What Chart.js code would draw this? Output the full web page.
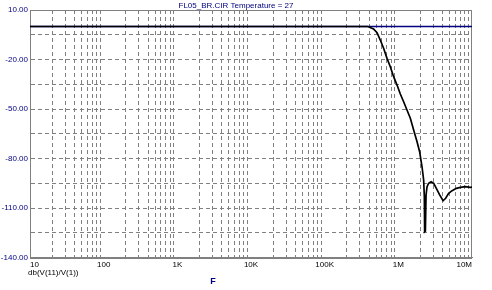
<!DOCTYPE html>
<html>
<head>
<meta charset="utf-8">
<script src="https://cdn.jsdelivr.net/npm/chart.js@4/dist/chart.umd.min.js"></script>
<style>
  html, body { margin: 0; padding: 0; background: #ffffff; }
  canvas { display: block; }
</style>
</head>
<body>
<canvas id="c" width="492" height="290"></canvas>
<script>
// ---- Data ----
const chartTitle = "FL05_BR.CIR Temperature = 27";
const traceLabel = "db(V(11)/V(1))";
const xAxisTitle = "F";

// Black trace: dB(V(11)/V(1)) vs frequency (Hz)
const freqBlack = [10, 100000, 386000, 461000, 514000, 569000, 631000, 702000, 778000, 863000,
  960000, 1064000, 1180000, 1310000, 1455000, 1614000, 1795000, 1945000, 2097000, 2206000,
  2254000, 2275000, 2328000, 2378000, 2453000, 2580000, 2782000, 3020000, 3280000, 3640000,
  4050000, 4390000, 4820000, 5370000, 6140000, 6950000, 8130000, 9500000, 10000000];
const dbBlack = [0, 0, 0, -1.5, -3.8, -8.2, -13.2, -19.3, -24.4, -30.4,
  -35.5, -40.9, -45.6, -50.6, -55.6, -62.7, -69.8, -75.9, -85.0, -93.0,
  -103.2, -124.4, -124.0, -102.1, -97.1, -95.0, -94.1, -95.0, -98.1, -102.1,
  -105.6, -104.1, -101.1, -99.5, -98.1, -97.5, -97.1, -97.5, -97.4];

// Blue trace: 0 dB reference
const freqBlue = [10, 10000000];
const dbBlue = [0, 0];

// Axis ticks
const xTickValues = [];
for (let e = 1; e <= 7; e++) {
  for (let m = 1; m <= 9; m++) {
    const v = m * Math.pow(10, e);
    if (v <= 10000000) xTickValues.push(v);
  }
}
const xDecadeLabels = { 10: "10", 100: "100", 1000: "1K", 10000: "10K", 100000: "100K", 1000000: "1M", 10000000: "10M" };
const yMin = -140, yMax = 10, yGridStep = 15;
const yLabelValues = [10, -20, -50, -80, -110, -140];

const FONT = "'Liberation Sans', Arial, sans-serif";
const GRID = "#808080";
const NAVY = "#000080";

const isDecade = v => Object.prototype.hasOwnProperty.call(xDecadeLabels, v);

const framePlugin = {
  id: "frame",
  beforeDatasetsDraw(chart) {
    const a = chart.chartArea, ctx = chart.ctx;
    ctx.save();
    ctx.strokeStyle = GRID;
    ctx.lineWidth = 1;
    ctx.strokeRect(Math.round(a.left) + 0.5, Math.round(a.top) + 0.5,
                   Math.round(a.right - a.left) - 1, Math.round(a.bottom - a.top));
    ctx.restore();
  },
  afterDraw(chart) {
    const a = chart.chartArea, ctx = chart.ctx;
    ctx.save();
    ctx.font = "8px " + FONT;
    ctx.textBaseline = "middle";
    ctx.fillStyle = "#000000";
    ctx.textAlign = "left";
    ctx.fillText(traceLabel, a.left - 2, a.bottom + 15);
    ctx.fillStyle = NAVY;
    ctx.font = "bold 9px " + FONT;
    ctx.textAlign = "center";
    ctx.fillText(xAxisTitle, a.left + 183, a.bottom + 24);
    ctx.restore();
  }
};

new Chart(document.getElementById("c"), {
  type: "line",
  data: {
    datasets: [
      {
        label: traceLabel,
        data: freqBlack.map((f, i) => ({ x: f, y: dbBlack[i] })),
        borderColor: "#000000",
        borderWidth: 1.7,
        pointRadius: 0,
        tension: 0,
        fill: false
      },
      {
        label: "ref",
        data: freqBlue.map((f, i) => ({ x: f, y: dbBlue[i] })),
        borderColor: NAVY,
        borderWidth: 1.5,
        pointRadius: 0,
        tension: 0,
        fill: false
      }
    ]
  },
  options: {
    responsive: false,
    animation: false,
    devicePixelRatio: 1,
    layout: { padding: { left: 0, right: 20, top: 0, bottom: 0 } },
    plugins: {
      legend: { display: false },
      tooltip: { enabled: false },
      title: {
        display: true,
        text: chartTitle,
        color: NAVY,
        font: { family: FONT, size: 8, weight: "normal", lineHeight: 1 },
        padding: { top: 2, bottom: 0 }
      }
    },
    scales: {
      x: {
        type: "logarithmic",
        min: 10,
        max: 10000000,
        afterBuildTicks: s => { s.ticks = xTickValues.map(v => ({ value: v })); },
        afterFit: s => { s.height = 32.5; },
        ticks: {
          autoSkip: false,
          maxRotation: 0,
          minRotation: 0,
          align: "inner",
          padding: 2,
          color: "#000000",
          font: { family: FONT, size: 8 },
          callback: v => (isDecade(v) ? xDecadeLabels[v] : "")
        },
        grid: {
          drawTicks: false,
          color: c => (c.tick && isDecade(c.tick.value) ? "rgba(0,0,0,0)" : GRID),
          lineWidth: 1
        },
        border: { display: true, color: GRID, width: 1, dash: [4, 3] }
      },
      y: {
        type: "linear",
        min: yMin,
        max: yMax,
        afterFit: s => { s.width = 30; },
        ticks: {
          stepSize: yGridStep,
          autoSkip: false,
          padding: 2,
          color: NAVY,
          font: { family: FONT, size: 8 },
          callback: v => (yLabelValues.includes(v) ? v.toFixed(2) : "")
        },
        grid: {
          drawTicks: false,
          color: c => (c.tick && (c.tick.value === yMin || c.tick.value === yMax) ? "rgba(0,0,0,0)" : GRID),
          lineWidth: 1
        },
        border: { display: true, color: GRID, width: 1, dash: [4, 3] }
      }
    }
  },
  plugins: [framePlugin]
});
</script>
</body>
</html>
